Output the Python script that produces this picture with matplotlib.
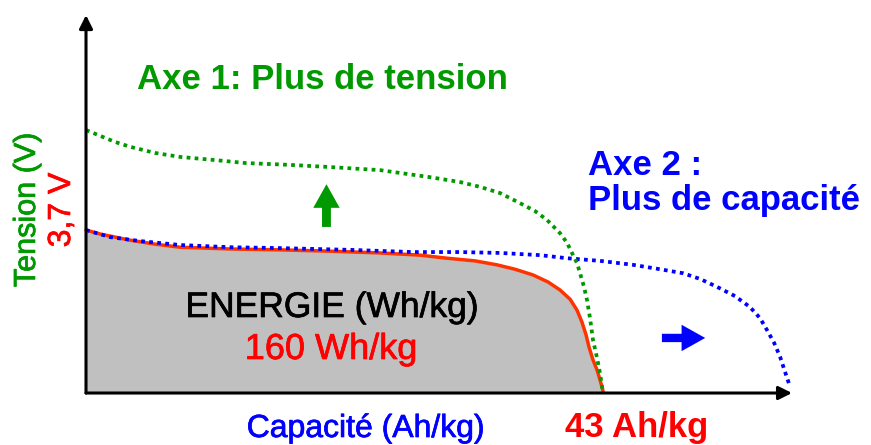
import matplotlib
matplotlib.use("Agg")
import matplotlib.pyplot as plt
import matplotlib.patheffects as pe

plt.rcParams['font.family'] = ['Liberation Sans', 'DejaVu Sans']

# Capacity (Ah/kg) and voltage (V)
red_x = [0, 1.16, 2.41, 3.66, 5.74, 7.82, 11.98, 16.14, 20.29, 24.45, 27.78, 30.03, 32.35,
         34.18, 35.68, 37.18, 38.43, 39.42, 40.26, 40.84, 41.25, 41.59, 41.84, 42.17, 42.51,
         42.75, 43.0]
red_y = [3.70, 3.61, 3.54, 3.47, 3.38, 3.31, 3.27, 3.25, 3.22, 3.18, 3.13, 3.06, 3.00,
         2.91, 2.81, 2.68, 2.52, 2.34, 2.13, 1.88, 1.61, 1.32, 1.04, 0.75, 0.52,
         0.30, 0.05]
fill_tail_x = [44.4]
fill_tail_y = [0.0]

green_x = [0, 1.16, 2.41, 3.66, 5.74, 7.82, 10.65, 13.31, 16.88, 20.29, 24.45, 28.61, 31.10,
           32.77, 34.43, 36.10, 37.35, 38.34, 39.42, 40.01, 40.42, 40.84, 41.09, 41.42, 41.67,
           41.92, 42.17, 42.51, 42.75, 43.0]
green_y = [5.97, 5.84, 5.70, 5.59, 5.45, 5.36, 5.29, 5.22, 5.18, 5.13, 5.06, 4.90, 4.79,
           4.68, 4.54, 4.31, 4.13, 3.93, 3.63, 3.41, 3.18, 2.95, 2.72, 2.41, 2.11,
           1.70, 1.20, 0.79, 0.45, 0.0]

blue_x = [0, 2.00, 4.49, 7.82, 11.98, 16.14, 21.96, 27.20, 31.10, 34.43, 37.76, 40.01, 42.75,
          45.50, 47.74, 49.65, 51.07, 52.48, 53.98, 55.23, 56.06, 56.64, 57.23, 57.73, 58.14,
          58.56]
blue_y = [3.70, 3.54, 3.45, 3.36, 3.31, 3.29, 3.25, 3.20, 3.20, 3.18, 3.13, 3.06, 3.00,
          2.91, 2.81, 2.72, 2.59, 2.41, 2.20, 1.95, 1.70, 1.43, 1.14, 0.82, 0.48,
          0.14]

W, H = 871, 445
fig = plt.figure(figsize=(W / 100, H / 100), dpi=100)
ax = fig.add_axes([0, 0, 1, 1])
ax.set_xlim(-7.153, 65.29)
ax.set_ylim(-1.180, 8.922)
ax.axis('off')

GREEN = '#009900'
RED = '#FF0000'
CURVE = '#FF3300'
BLUE = '#0000FF'

ax.fill_between(red_x + fill_tail_x, red_y + fill_tail_y, 0, color='#C0C0C0', lw=0, zorder=1)
ax.plot(red_x, red_y, color=CURVE, lw=2.5, zorder=3, solid_capstyle='round',
        solid_joinstyle='round')
ax.plot(blue_x, blue_y, color=BLUE, lw=2.7, ls=(0, (1, 1.15)), zorder=4)
ax.plot(green_x, green_y, color=GREEN, lw=2.7, ls=(0, (1, 1.15)), zorder=4)

# axes arrows
ax.annotate('', xy=(58.72, 0), xytext=(0, 0),
            arrowprops=dict(arrowstyle='-|>', lw=2.2, color='black', mutation_scale=20,
                            shrinkA=0, shrinkB=0), zorder=5)
ax.annotate('', xy=(0, 8.58), xytext=(0, 0),
            arrowprops=dict(arrowstyle='-|>', lw=2.2, color='black', mutation_scale=20,
                            shrinkA=0, shrinkB=0), zorder=5)

# block arrows
ax.annotate('', xy=(20.0, 4.74), xytext=(20.0, 3.77),
            arrowprops=dict(arrowstyle='simple,head_length=0.85,head_width=0.95,tail_width=0.32',
                            color=GREEN, lw=0, mutation_scale=20, shrinkA=0, shrinkB=0))
ax.annotate('', xy=(51.5, 1.25), xytext=(47.9, 1.25),
            arrowprops=dict(arrowstyle='simple,head_length=0.85,head_width=0.95,tail_width=0.3',
                            color=BLUE, lw=0, mutation_scale=20, shrinkA=0, shrinkB=0))


def P(x, y):
    return x / W, 1 - y / H


def thick(color):
    return [pe.withStroke(linewidth=0.5, foreground=color)]


fig.text(*P(137, 89), 'Axe 1: Plus de tension', color=GREEN, fontsize=25, fontweight='bold',
         ha='left', va='baseline')
fig.text(*P(588, 175), 'Axe 2 :', color=BLUE, fontsize=25, fontweight='bold',
         ha='left', va='baseline')
fig.text(*P(588, 210), 'Plus de capacité', color=BLUE, fontsize=25, fontweight='bold',
         ha='left', va='baseline')
fig.text(*P(332, 317), 'ENERGIE (Wh/kg)', color='black', fontsize=25.5,
         ha='center', va='baseline', zorder=6, path_effects=thick('black'))
fig.text(*P(331, 359), '160 Wh/kg', color=RED, fontsize=26,
         ha='center', va='baseline', zorder=6, path_effects=thick(RED))
fig.text(*P(366, 437), 'Capacité (Ah/kg)', color=BLUE, fontsize=23,
         ha='center', va='baseline', path_effects=thick(BLUE))
fig.text(*P(637, 437), '43 Ah/kg', color=RED, fontsize=25, fontweight='bold',
         ha='center', va='baseline')
fig.text(*P(27, 210), 'Tension (V)', color=GREEN, fontsize=22, rotation=90,
         ha='center', va='center', path_effects=thick(GREEN))
fig.text(*P(62, 210), '3,7 V', color=RED, fontsize=23, rotation=90,
         ha='center', va='center', path_effects=thick(RED))

fig.savefig('out.png', dpi=100)
